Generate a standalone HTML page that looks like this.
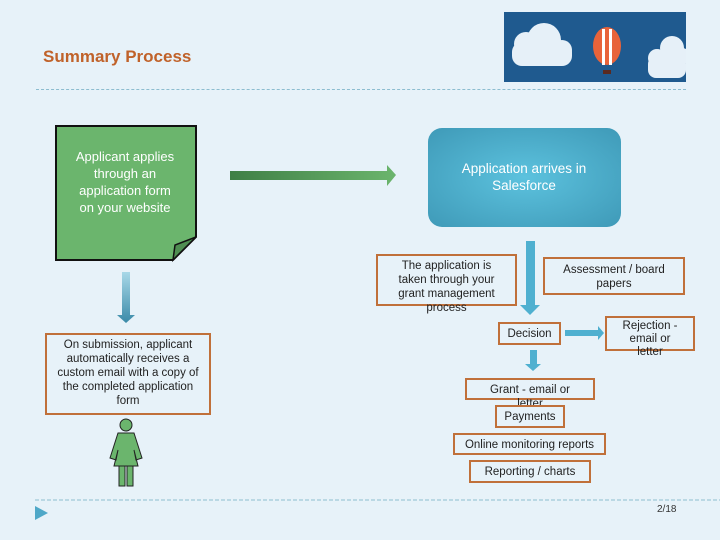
<!DOCTYPE html>
<html><head><style>
body{margin:0;width:720px;height:540px;background:#e7f2f9;position:relative;overflow:hidden;font-family:"Liberation Sans",sans-serif;}
.a{position:absolute;}
.ob{position:absolute;border:2px solid #c0703a;box-sizing:border-box;font-size:11.5px;color:#222;text-align:center;line-height:14px;}
</style></head><body>
<div class="a" style="left:43px;top:47px;font:bold 17px 'Liberation Sans',sans-serif;color:#c0622a;">Summary Process</div>
<div class="a" style="left:36px;top:89px;width:650px;border-top:1px dashed #8dbdd0"></div>
<svg class="a" style="left:504px;top:12px" width="182" height="70">
<rect width="182" height="70" fill="#1f5a8f"/>
<g fill="#e6f0f8"><circle cx="22" cy="32" r="12"/><circle cx="40" cy="28" r="17"/><circle cx="58" cy="38" r="10"/><rect x="8" y="30" width="60" height="24" rx="10"/></g>
<g fill="#e6f0f8"><circle cx="168" cy="36" r="12"/><circle cx="178" cy="44" r="8"/><circle cx="153" cy="46" r="9"/><rect x="144" y="44" width="38" height="22" rx="8"/></g>
<ellipse cx="103" cy="34" rx="14" ry="19" fill="#e8633a"/><rect x="98" y="17" width="3" height="36" fill="#fff"/><rect x="105" y="17" width="3" height="36" fill="#fff"/>
<rect x="99" y="58" width="8" height="4" fill="#5a2a20"/>
</svg>
<svg class="a" style="left:0;top:0" width="720" height="540">
<defs>
<linearGradient id="g1" x1="0" x2="1"><stop offset="0" stop-color="#3f7f45"/><stop offset="1" stop-color="#6bb56d"/></linearGradient>
<linearGradient id="g2" x1="0" x2="0" y1="0" y2="1"><stop offset="0" stop-color="#a8d8e8"/><stop offset="1" stop-color="#3a8aa8"/></linearGradient>
<radialGradient id="g3" cx="0.5" cy="0.5" r="0.7"><stop offset="0" stop-color="#5cc2de"/><stop offset="1" stop-color="#3f9ab8"/></radialGradient>
</defs>
<path d="M56,126 H196 V237 L173,260 H56 Z" fill="#6bb56d" stroke="#111" stroke-width="2"/>
<path d="M196,237 L173,260 L175,245 Z" fill="#4f8e52" stroke="#111" stroke-width="1.5"/>
<path d="M230,171 H387 V165 L396,175 L387,186 V180 H230 Z" fill="url(#g1)"/>
<rect x="428" y="128" width="193" height="99" rx="14" fill="url(#g3)"/>
<path d="M122,272 H130 V315 H135 L126,323 L117,315 H122 Z" fill="url(#g2)"/>
<path d="M526,241 H535 V305 H540 L530,315 L520,305 H526 Z" fill="#4fb0d0"/>
<path d="M565,330 H598 V326 L604,333 L598,340 V336 H565 Z" fill="#4fb0d0"/>
<path d="M530,350 H537 V364 H541 L533,371 L525,364 H530 Z" fill="#4fb0d0"/>
<g fill="#6bb56d" stroke="#222" stroke-width="1">
<circle cx="126" cy="425" r="6"/>
<path d="M118,433 H134 L142,458 L136,460 L134,450 L138,466 H114 L118,450 L116,460 L110,458 Z"/>
<rect x="119" y="466" width="6" height="20"/><rect x="127" y="466" width="6" height="20"/>
</g>
<line x1="35" y1="500" x2="720" y2="500" stroke="#8dbdd0" stroke-dasharray="4,2"/>
<path d="M35,506 L48,513 L35,520 Z" fill="#4fa8c8"/>
</svg>
<div class="a" style="left:72px;top:148px;width:106px;text-align:center;color:#fff;font-size:13px;line-height:17px">Applicant applies through an application form on your website</div>
<div class="a" style="left:445px;top:160px;width:158px;text-align:center;color:#fff;font-size:13.5px;line-height:17px">Application arrives in Salesforce</div>
<div class="ob" style="left:376px;top:254px;width:141px;height:52px;padding:3px 10px 0">The application is taken through your grant management process</div>
<div class="ob" style="left:543px;top:257px;width:142px;height:38px;padding:4px 10px 0">Assessment / board papers</div>
<div class="ob" style="left:498px;top:322px;width:63px;height:23px;padding-top:3px">Decision</div>
<div class="ob" style="left:605px;top:316px;width:90px;height:35px;padding:2px 14px 0;line-height:13px">Rejection - email or letter</div>
<div class="ob" style="left:465px;top:378px;width:130px;height:22px;padding:3px 20px 0">Grant - email or letter</div>
<div class="ob" style="left:495px;top:405px;width:70px;height:23px;padding-top:3px">Payments</div>
<div class="ob" style="left:453px;top:433px;width:153px;height:22px;padding-top:3px">Online monitoring reports</div>
<div class="ob" style="left:469px;top:460px;width:122px;height:23px;padding-top:3px">Reporting / charts</div>
<div class="ob" style="left:45px;top:333px;width:166px;height:82px;padding:3px 8px 0">On submission, applicant automatically receives a custom email with a copy of the completed application form</div>
<div class="a" style="left:657px;top:504px;font-size:10px;color:#333">2/18</div>
</body></html>
